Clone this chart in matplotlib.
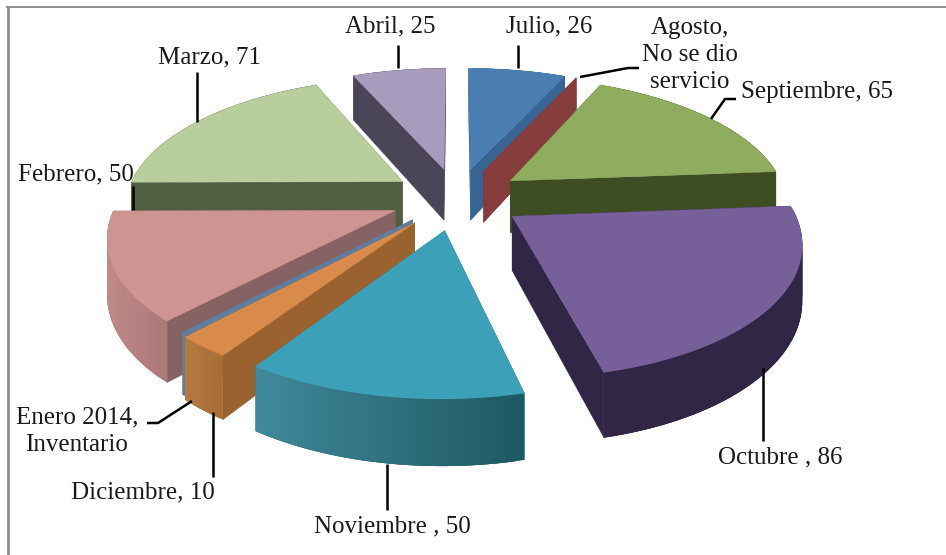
import numpy as np
import matplotlib
matplotlib.use("Agg")
import matplotlib.pyplot as plt
from matplotlib.colors import to_rgb
from matplotlib.patches import Polygon

# ---- data ----
months = ["Julio", "Agosto", "Septiembre", "Octubre", "Noviembre",
          "Diciembre", "Enero 2014", "Febrero", "Marzo", "Abril"]
values = [26, 0, 65, 86, 50, 10, 0, 50, 71, 25]
labels = ["Julio, 26", "Agosto,\nNo se dio\nservicio", "Septiembre, 65", "Octubre , 86",
          "Noviembre , 50", "Diciembre, 10", "Enero 2014,\nInventario", "Febrero, 50",
          "Marzo, 71", "Abril, 25"]

# ---- style ----
top_colors = ["#4A7EB3", "#843C3C", "#8FAC5F", "#775F9A", "#3CA0B8",
              "#D98B4C", "#5F7DA1", "#CD9492", "#B8CE9C", "#A79BBE"]
side_colors = ["#376492", "#843C3C", "#3F4D22", "#312645", "#2F7F93",
               "#99622F", "#5F7DA1", "#866262", "#525E42", "#4A4657"]
wall_left = ["#376492", "#843C3C", "#3F4D22", "#312645", "#41899C",
             "#B47A42", "#5F7DA1", "#C08A88", "#525E42", "#4A4657"]
wall_right = ["#376492", "#843C3C", "#3F4D22", "#312645", "#1D5961",
              "#A86E38", "#5F7DA1", "#AD7878", "#525E42", "#4A4657"]
explode = [0.24, 0.24, 0.24, 0.24, 0.25, 0.24, 0.228, 0.24, 0.24, 0.24]
draw_order = [9, 0, 1, 8, 2, 7, 3, 6, 5, 4]
min_sweep = {1: 0.0, 6: 0.4}

CX, CY = 457, 198
RX, RY = 277, 127
PERSP = 0.17
DEPTH = 53

plt.rcParams["font.family"] = ["Liberation Serif", "DejaVu Serif"]
fig = plt.figure(figsize=(9.46, 5.55), dpi=100)
ax = fig.add_axes([0, 0, 1, 1])
ax.set_xlim(0, 946)
ax.set_ylim(555, 0)
ax.axis("off")


def project(x, y, z=0.0):
    s = 1.0 / (1.0 + PERSP * y)
    return CX + RX * x * s, CY - RY * y * s + DEPTH * z * s


def mix(c1, c2, t):
    a, b = np.array(to_rgb(c1)), np.array(to_rgb(c2))
    return tuple(a + (b - a) * t)


total = sum(values)
starts = np.concatenate([[0], np.cumsum(values)[:-1]]) / total * 360.0

for i in draw_order:
    a0 = np.radians(starts[i])
    sweep = values[i] / total * 360.0 + min_sweep.get(i, 0.0)
    a1 = a0 + np.radians(sweep)
    mid = (a0 + a1) / 2
    ox, oy = explode[i] * np.sin(mid), explode[i] * np.cos(mid)
    th = np.linspace(a0, a1, max(2, int(sweep) + 2))
    rim_x, rim_y = ox + np.sin(th), oy + np.cos(th)

    # radial walls
    for ang_x, ang_y in ((rim_x[0], rim_y[0]), (rim_x[-1], rim_y[-1])):
        pts = [project(ox, oy, 0), project(ang_x, ang_y, 0),
               project(ang_x, ang_y, 1), project(ox, oy, 1)]
        ax.add_patch(Polygon(pts, closed=True, fc=side_colors[i], ec=side_colors[i], lw=0.3))

    # outer wall, in shaded strips that overlap so no seams show
    xs = [project(a, b)[0] for a, b in zip(rim_x, rim_y)]
    lo, hi = min(xs), max(xs)
    n = len(th)
    for k in range(n - 1):
        e = min(k + 3, n - 1)
        idx = list(range(k, e + 1))
        pts = [project(rim_x[j], rim_y[j], 0) for j in idx] + \
              [project(rim_x[j], rim_y[j], 1) for j in idx[::-1]]
        t = (xs[k] - lo) / max(hi - lo, 1e-6)
        col = mix(wall_left[i], wall_right[i], t)
        ax.add_patch(Polygon(pts, closed=True, fc=col, ec="none", lw=0))

    # top face
    if sweep > 0:
        pts = [project(ox, oy, 0)] + [project(a, b, 0) for a, b in zip(rim_x, rim_y)]
        ax.add_patch(Polygon(pts, closed=True, fc=top_colors[i], ec=top_colors[i], lw=0.3))

# ---- labels and leader lines ----
label_pos = [(549, 26), (690, 55), (817, 92), (780, 457), (392, 526),
             (143, 492), (77, 431), (76, 174), (209, 57), (390, 26)]
leaders = [
    [(518, 45), (518, 68)],
    [(639, 68), (628, 68), (580, 77)],
    [(736, 99), (725, 99), (711, 119)],
    [(763, 441), (763, 368)],
    [(387, 510), (387, 464)],
    [(213, 477), (213, 412)],
    [(147, 423), (158, 423), (192, 401)],
    [(133, 186), (133, 210)],
    [(197, 72), (197, 122)],
    [(398, 45), (398, 68)],
]
for text, (x, y) in zip(labels, label_pos):
    ax.text(x, y, text, ha="center", va="center", fontsize=18, color="#1a1a1a",
            linespacing=1.3)
for seg in leaders:
    ax.plot(*zip(*seg), color="black", lw=1.8, solid_capstyle="butt")

# ---- frame ----
ax.plot([7.5, 7.5], [6, 555], color="#8f8f8f", lw=2, solid_capstyle="butt")
ax.plot([6, 946], [7, 7], color="#8f8f8f", lw=1.4, solid_capstyle="butt")

fig.savefig("out.png", dpi=100, facecolor="white")
